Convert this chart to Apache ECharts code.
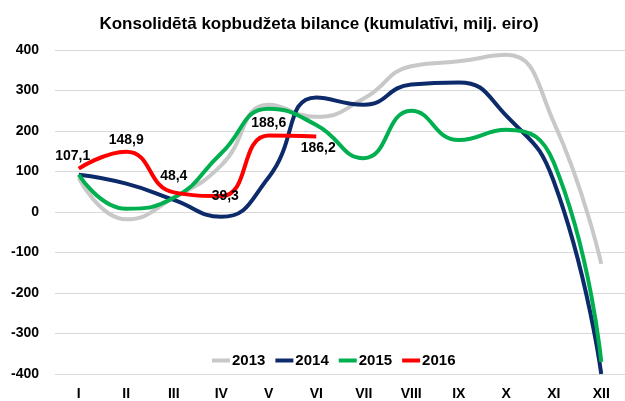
<!DOCTYPE html>
<html>
<head>
<meta charset="utf-8">
<script src="https://cdn.jsdelivr.net/npm/echarts@6/dist/echarts.min.js"></script>
<style>
  html, body { margin: 0; padding: 0; background: #fff; }
  #chart { width: 625px; height: 401px; }
</style>
</head>
<body>
<div id="chart"></div>
<script>
// dati
var months = ["I", "II", "III", "IV", "V", "VI", "VII", "VIII", "IX", "X", "XI", "XII"];
var y2013 = [84, -18, 35, 115, 265, 235, 280, 360, 372, 388, 222, -128];
var y2014 = [92, 70, 30, -12, 86, 283, 265, 315, 320, 238, 76, -400];
var y2015 = [92, 8, 35, 145, 255, 215, 133, 250, 178, 203, 122, -370];
var y2016 = [107.1, 148.9, 48.4, 39.3, 188.6, 186.2];
var yTicks = [-400, -300, -200, -100, 0, 100, 200, 300, 400];

var chart = echarts.init(document.getElementById("chart"));

function fmt(v) {
  return String(v).replace(".", ",");
}

// red labels: place each one like in the picture
var labelPos = [
  { position: "top", offset: [-6, 0] },
  { position: "top", offset: [0, 0] },
  { position: "top", offset: [0, -4] },
  { position: "inside", offset: [4, 0] },
  { position: "top", offset: [0, 0] },
  { position: "bottom", offset: [2, 0] }
];
var redData = y2016.map(function (v, i) {
  return { value: v, label: labelPos[i] };
});

var option = {
  animation: false,
  textStyle: { fontFamily: "Liberation Sans" },
  title: {
    text: "Konsolidētā kopbudžeta bilance (kumulatīvi, milj. eiro)",
    left: 314,
    textAlign: "center",
    top: 11,
    textStyle: { fontSize: 17, fontWeight: "bold", color: "#000" }
  },
  legend: {
    data: ["2013", "2014", "2015", "2016"],
    left: 207,
    top: 348,
    icon: "rect",
    itemWidth: 18,
    itemHeight: 4,
    itemGap: 10,
    textStyle: { fontSize: 15, fontWeight: "bold", color: "#000", padding: [0, 0, 0, -3] }
  },
  grid: { left: 55, right: 0, top: 50, bottom: 26 },
  xAxis: {
    type: "category",
    data: months,
    boundaryGap: true,
    axisLine: { show: false },
    axisTick: { show: false },
    axisLabel: { fontSize: 14, fontWeight: "bold", color: "#000", margin: 13 }
  },
  yAxis: {
    type: "value",
    min: -400,
    max: 400,
    interval: 100,
    axisLine: { show: false },
    axisTick: { show: false },
    splitLine: { lineStyle: { color: "#d9d9d9", width: 1 } },
    axisLabel: {
      fontSize: 14, fontWeight: "bold", color: "#000", margin: 16,
      formatter: function (v) { return yTicks.indexOf(v) >= 0 ? String(v) : ""; }
    }
  },
  series: [
    {
      name: "2013", type: "line", data: y2013, smooth: 0.5, symbol: "none",
      lineStyle: { width: 4, color: "#c8c8c8" }, itemStyle: { color: "#c8c8c8" }
    },
    {
      name: "2014", type: "line", data: y2014, smooth: 0.5, symbol: "none",
      lineStyle: { width: 4, color: "#0d2a6b" }, itemStyle: { color: "#0d2a6b" }
    },
    {
      name: "2015", type: "line", data: y2015, smooth: 0.5, symbol: "none",
      lineStyle: { width: 4, color: "#00b050" }, itemStyle: { color: "#00b050" }
    },
    {
      name: "2016", type: "line", data: redData, smooth: 0.5,
      symbol: "circle", symbolSize: 0, showSymbol: true,
      lineStyle: { width: 4, color: "#ff0000" }, itemStyle: { color: "#ff0000" },
      label: {
        show: true, fontSize: 14, fontWeight: "bold", color: "#000",
        formatter: function (p) { return fmt(p.value); }
      }
    }
  ]
};
chart.setOption(option);
</script>
</body>
</html>
